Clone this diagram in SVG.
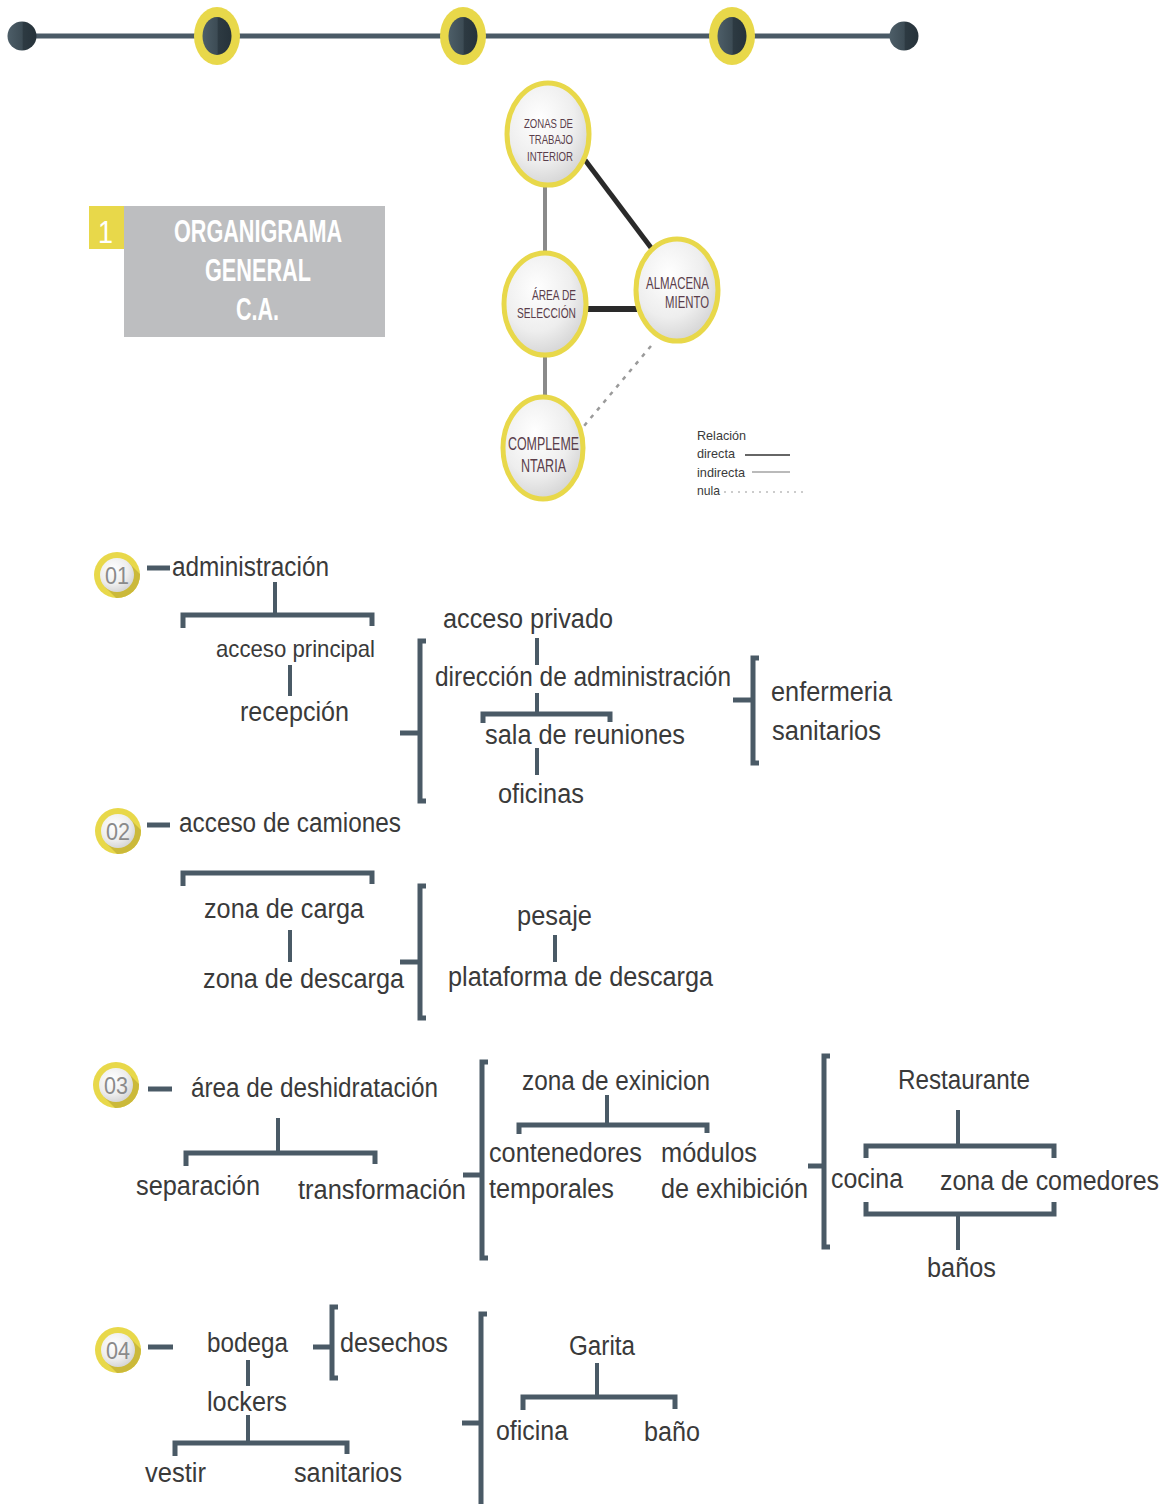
<svg xmlns="http://www.w3.org/2000/svg" width="1174" height="1504" viewBox="0 0 1174 1504">
<defs>
<linearGradient id="dark" x1="0" y1="0" x2="1" y2="0">
<stop offset="0" stop-color="#4d5e68"/><stop offset="0.5" stop-color="#3d4c55"/><stop offset="0.55" stop-color="#2d3a42"/><stop offset="1" stop-color="#26323a"/>
</linearGradient>
<radialGradient id="pearl" cx="0.4" cy="0.35" r="0.7">
<stop offset="0" stop-color="#ffffff"/><stop offset="0.6" stop-color="#eeeeee"/><stop offset="1" stop-color="#d2d2d2"/>
</radialGradient>
<clipPath id="bclip" clipPathUnits="userSpaceOnUse"><circle cx="0" cy="0" r="23"/></clipPath>
</defs>
<style>
.ln{stroke:#4a5a66;stroke-width:5;fill:none;stroke-linecap:butt}
.lv{stroke:#4a5a66;stroke-width:4;fill:none}
.t{font-family:"Liberation Sans",Arial,sans-serif;fill:#3a3a3a;font-size:27px}
.ts{font-size:24px}
.nt{font-family:"Liberation Sans",Arial,sans-serif;fill:#5a3e4b}
.ring{fill:url(#pearl);stroke:#e8d84a;stroke-width:5}
.num{font-family:"Liberation Sans",Arial,sans-serif;fill:#8a8a8a;font-size:24px}
.lg{font-family:"Liberation Sans",Arial,sans-serif;fill:#3a3a3a;font-size:13px}
.ttl{font-family:"Liberation Sans",Arial,sans-serif;font-size:31px;fill:#ffffff}
.b{font-weight:bold}
</style>
<rect width="1174" height="1504" fill="#ffffff"/>

<g id="timeline">
<line x1="22" y1="36" x2="904" y2="36" stroke="#4a5a66" stroke-width="5"/>
<circle cx="22" cy="36" r="14.5" fill="url(#dark)"/>
<circle cx="904" cy="36" r="14.5" fill="url(#dark)"/>
<ellipse cx="217" cy="36" rx="23" ry="29" fill="#e8d84a"/>
<ellipse cx="217" cy="36" rx="14.5" ry="19" fill="url(#dark)"/>
<ellipse cx="463" cy="36" rx="23" ry="29" fill="#e8d84a"/>
<ellipse cx="463" cy="36" rx="14.5" ry="19" fill="url(#dark)"/>
<ellipse cx="732" cy="36" rx="23" ry="29" fill="#e8d84a"/>
<ellipse cx="732" cy="36" rx="14.5" ry="19" fill="url(#dark)"/>
</g>

<g id="title">
<rect x="124" y="206" width="261" height="131" fill="#bdbec0"/>
<rect x="89" y="206" width="35" height="43" fill="#e8d84a"/>
<text class="ttl" x="98" y="243" font-size="34" textLength="15" lengthAdjust="spacingAndGlyphs">1</text>
<text class="ttl b" x="174" y="242" textLength="168" lengthAdjust="spacingAndGlyphs">ORGANIGRAMA</text>
<text class="ttl b" x="205" y="281" textLength="106" lengthAdjust="spacingAndGlyphs">GENERAL</text>
<text class="ttl b" x="236" y="320" textLength="43" lengthAdjust="spacingAndGlyphs">C.A.</text>
</g>

<g id="relations">
<line x1="545" y1="186" x2="545" y2="252" stroke="#8a8a8a" stroke-width="4"/>
<line x1="545" y1="356" x2="545" y2="398" stroke="#8a8a8a" stroke-width="4"/>
<line x1="585" y1="160" x2="652" y2="249" stroke="#2a2a2a" stroke-width="5"/>
<line x1="586" y1="309" x2="637" y2="309" stroke="#2a2a2a" stroke-width="6"/>
<line x1="651" y1="346" x2="584" y2="426" stroke="#9a9a9a" stroke-width="2.5" stroke-dasharray="4 6"/>
</g>

<g id="node-zonas">
<ellipse class="ring" cx="548" cy="134" rx="41" ry="51"/>
<text class="nt" font-size="13" x="524" y="128" textLength="49" lengthAdjust="spacingAndGlyphs">ZONAS DE</text>
<text class="nt" font-size="13" x="529" y="144" textLength="44" lengthAdjust="spacingAndGlyphs">TRABAJO</text>
<text class="nt" font-size="13" x="527" y="161" textLength="46" lengthAdjust="spacingAndGlyphs">INTERIOR</text>
</g>
<g id="node-area">
<ellipse class="ring" cx="545" cy="304" rx="41" ry="51"/>
<text class="nt" font-size="14" x="532" y="300" textLength="44" lengthAdjust="spacingAndGlyphs">ÁREA DE</text>
<text class="nt" font-size="14" x="517" y="318" textLength="59" lengthAdjust="spacingAndGlyphs">SELECCIÓN</text>
</g>
<g id="node-almacena">
<ellipse class="ring" cx="677" cy="290" rx="41" ry="51"/>
<text class="nt" font-size="16" x="646" y="289" textLength="63" lengthAdjust="spacingAndGlyphs">ALMACENA</text>
<text class="nt" font-size="16" x="665" y="308" textLength="44" lengthAdjust="spacingAndGlyphs">MIENTO</text>
</g>
<g id="node-complementaria">
<ellipse class="ring" cx="543" cy="448" rx="40" ry="51"/>
<text class="nt" font-size="18" x="508" y="450" textLength="71" lengthAdjust="spacingAndGlyphs">COMPLEME</text>
<text class="nt" font-size="18" x="521" y="472" textLength="45" lengthAdjust="spacingAndGlyphs">NTARIA</text>
</g>

<g id="legend">
<text class="lg" x="697" y="440" textLength="49" lengthAdjust="spacingAndGlyphs">Relación</text>
<text class="lg" x="697" y="458" textLength="38" lengthAdjust="spacingAndGlyphs">directa</text>
<line x1="745" y1="455" x2="790" y2="455" stroke="#333" stroke-width="1.5"/>
<text class="lg" x="697" y="477" textLength="48" lengthAdjust="spacingAndGlyphs">indirecta</text>
<line x1="752" y1="472" x2="790" y2="472" stroke="#777" stroke-width="1.2"/>
<text class="lg" x="697" y="495" textLength="23" lengthAdjust="spacingAndGlyphs">nula</text>
<line x1="724" y1="492" x2="805" y2="492" stroke="#999" stroke-width="1" stroke-dasharray="2 5"/>
</g>

<g id="badges">
<g id="badge-01" transform="translate(117,575)"><circle r="23" fill="#e8d84a"/><polygon clip-path="url(#bclip)" points="12,-12 42,18 18,42 -12,12" fill="#cbb93a"/><circle r="17" fill="url(#pearl)"/><text class="num" x="-12" y="9" textLength="24" lengthAdjust="spacingAndGlyphs">01</text></g>
<g id="badge-02" transform="translate(118,831)"><circle r="23" fill="#e8d84a"/><polygon clip-path="url(#bclip)" points="12,-12 42,18 18,42 -12,12" fill="#cbb93a"/><circle r="17" fill="url(#pearl)"/><text class="num" x="-12" y="9" textLength="24" lengthAdjust="spacingAndGlyphs">02</text></g>
<g id="badge-03" transform="translate(116,1085)"><circle r="23" fill="#e8d84a"/><polygon clip-path="url(#bclip)" points="12,-12 42,18 18,42 -12,12" fill="#cbb93a"/><circle r="17" fill="url(#pearl)"/><text class="num" x="-12" y="9" textLength="24" lengthAdjust="spacingAndGlyphs">03</text></g>
<g id="badge-04" transform="translate(118,1350)"><circle r="23" fill="#e8d84a"/><polygon clip-path="url(#bclip)" points="12,-12 42,18 18,42 -12,12" fill="#cbb93a"/><circle r="17" fill="url(#pearl)"/><text class="num" x="-12" y="9" textLength="24" lengthAdjust="spacingAndGlyphs">04</text></g>
</g>

<g id="connectors">
<line class="ln" x1="147" y1="568" x2="170" y2="568"/>
<line class="lv" x1="275" y1="582" x2="275" y2="613"/>
<polyline class="ln" points="183,628 183,615 372,615 372,626"/>
<line class="lv" x1="290" y1="665" x2="290" y2="696"/>
<polyline class="ln" points="426,641 420,641 420,801 426,801"/>
<line class="ln" x1="400" y1="733" x2="420" y2="733"/>
<line class="lv" x1="537" y1="638" x2="537" y2="665"/>
<line class="lv" x1="537" y1="693" x2="537" y2="714"/>
<polyline class="ln" points="483,723 483,714 610,714 610,722"/>
<line class="lv" x1="537" y1="748" x2="537" y2="775"/>
<line class="ln" x1="733" y1="700" x2="753" y2="700"/>
<polyline class="ln" points="759,658 753,658 753,763 759,763"/>
<line class="ln" x1="147" y1="825" x2="170" y2="825"/>
<polyline class="ln" points="183,886 183,873 372,873 372,884"/>
<line class="lv" x1="290" y1="930" x2="290" y2="962"/>
<polyline class="ln" points="426,886 420,886 420,1018 426,1018"/>
<line class="ln" x1="400" y1="962" x2="420" y2="962"/>
<line class="lv" x1="555" y1="935" x2="555" y2="962"/>
<line class="ln" x1="148" y1="1089" x2="172" y2="1089"/>
<line class="lv" x1="278" y1="1118" x2="278" y2="1152"/>
<polyline class="ln" points="186,1166 186,1153 375,1153 375,1164"/>
<polyline class="ln" points="488,1062 482,1062 482,1258 488,1258"/>
<line class="ln" x1="463" y1="1175" x2="482" y2="1175"/>
<line class="lv" x1="607" y1="1095" x2="607" y2="1124"/>
<polyline class="ln" points="519,1134 519,1125 707,1125 707,1133"/>
<polyline class="ln" points="830,1056 824,1056 824,1247 830,1247"/>
<line class="ln" x1="808" y1="1166" x2="824" y2="1166"/>
<line class="lv" x1="958" y1="1110" x2="958" y2="1145"/>
<polyline class="ln" points="866,1158 866,1146 1054,1146 1054,1158"/>
<polyline class="ln" points="866,1202 866,1214 1054,1214 1054,1202"/>
<line class="lv" x1="958" y1="1214" x2="958" y2="1250"/>
<line class="ln" x1="148" y1="1347" x2="173" y2="1347"/>
<line class="lv" x1="248" y1="1360" x2="248" y2="1386"/>
<line class="lv" x1="248" y1="1415" x2="248" y2="1443"/>
<polyline class="ln" points="175,1456 175,1443 347,1443 347,1454"/>
<line class="ln" x1="313" y1="1347" x2="332" y2="1347"/>
<polyline class="ln" points="338,1307 332,1307 332,1378 338,1378"/>
<polyline class="ln" points="487,1314 481,1314 481,1504"/>
<line class="ln" x1="462" y1="1423" x2="481" y2="1423"/>
<line class="lv" x1="597" y1="1363" x2="597" y2="1397"/>
<polyline class="ln" points="523,1410 523,1397 675,1397 675,1409"/>
</g>

<g id="labels">
<text class="t" x="172" y="576" textLength="157" lengthAdjust="spacingAndGlyphs">administración</text>
<text class="t ts" x="216" y="657" textLength="159" lengthAdjust="spacingAndGlyphs">acceso principal</text>
<text class="t" x="240" y="721" textLength="109" lengthAdjust="spacingAndGlyphs">recepción</text>
<text class="t" x="443" y="628" textLength="170" lengthAdjust="spacingAndGlyphs">acceso privado</text>
<text class="t" x="435" y="686" textLength="296" lengthAdjust="spacingAndGlyphs">dirección de administración</text>
<text class="t" x="485" y="744" textLength="200" lengthAdjust="spacingAndGlyphs">sala de reuniones</text>
<text class="t" x="498" y="803" textLength="86" lengthAdjust="spacingAndGlyphs">oficinas</text>
<text class="t" x="771" y="701" textLength="121" lengthAdjust="spacingAndGlyphs">enfermeria</text>
<text class="t" x="772" y="740" textLength="109" lengthAdjust="spacingAndGlyphs">sanitarios</text>
<text class="t" x="179" y="832" textLength="222" lengthAdjust="spacingAndGlyphs">acceso de camiones</text>
<text class="t" x="204" y="918" textLength="160" lengthAdjust="spacingAndGlyphs">zona de carga</text>
<text class="t" x="203" y="988" textLength="201" lengthAdjust="spacingAndGlyphs">zona de descarga</text>
<text class="t" x="517" y="925" textLength="75" lengthAdjust="spacingAndGlyphs">pesaje</text>
<text class="t" x="448" y="986" textLength="265" lengthAdjust="spacingAndGlyphs">plataforma de descarga</text>
<text class="t" x="191" y="1097" textLength="247" lengthAdjust="spacingAndGlyphs">área de deshidratación</text>
<text class="t" x="136" y="1195" textLength="124" lengthAdjust="spacingAndGlyphs">separación</text>
<text class="t" x="298" y="1199" textLength="168" lengthAdjust="spacingAndGlyphs">transformación</text>
<text class="t" x="522" y="1090" textLength="188" lengthAdjust="spacingAndGlyphs">zona de exinicion</text>
<text class="t" x="489" y="1162" textLength="153" lengthAdjust="spacingAndGlyphs">contenedores</text>
<text class="t" x="489" y="1198" textLength="125" lengthAdjust="spacingAndGlyphs">temporales</text>
<text class="t" x="661" y="1162" textLength="96" lengthAdjust="spacingAndGlyphs">módulos</text>
<text class="t" x="661" y="1198" textLength="147" lengthAdjust="spacingAndGlyphs">de exhibición</text>
<text class="t" x="898" y="1089" textLength="132" lengthAdjust="spacingAndGlyphs">Restaurante</text>
<text class="t" x="831" y="1188" textLength="72" lengthAdjust="spacingAndGlyphs">cocina</text>
<text class="t" x="940" y="1190" font-size="25" textLength="219" lengthAdjust="spacingAndGlyphs">zona de comedores</text>
<text class="t" x="927" y="1277" textLength="69" lengthAdjust="spacingAndGlyphs">baños</text>
<text class="t" x="207" y="1352" textLength="81" lengthAdjust="spacingAndGlyphs">bodega</text>
<text class="t" x="207" y="1411" textLength="80" lengthAdjust="spacingAndGlyphs">lockers</text>
<text class="t" x="145" y="1482" textLength="61" lengthAdjust="spacingAndGlyphs">vestir</text>
<text class="t" x="294" y="1482" textLength="108" lengthAdjust="spacingAndGlyphs">sanitarios</text>
<text class="t" x="340" y="1352" textLength="108" lengthAdjust="spacingAndGlyphs">desechos</text>
<text class="t" x="569" y="1355" textLength="66" lengthAdjust="spacingAndGlyphs">Garita</text>
<text class="t" x="496" y="1440" textLength="72" lengthAdjust="spacingAndGlyphs">oficina</text>
<text class="t" x="644" y="1441" textLength="56" lengthAdjust="spacingAndGlyphs">baño</text>
</g>
</svg>
